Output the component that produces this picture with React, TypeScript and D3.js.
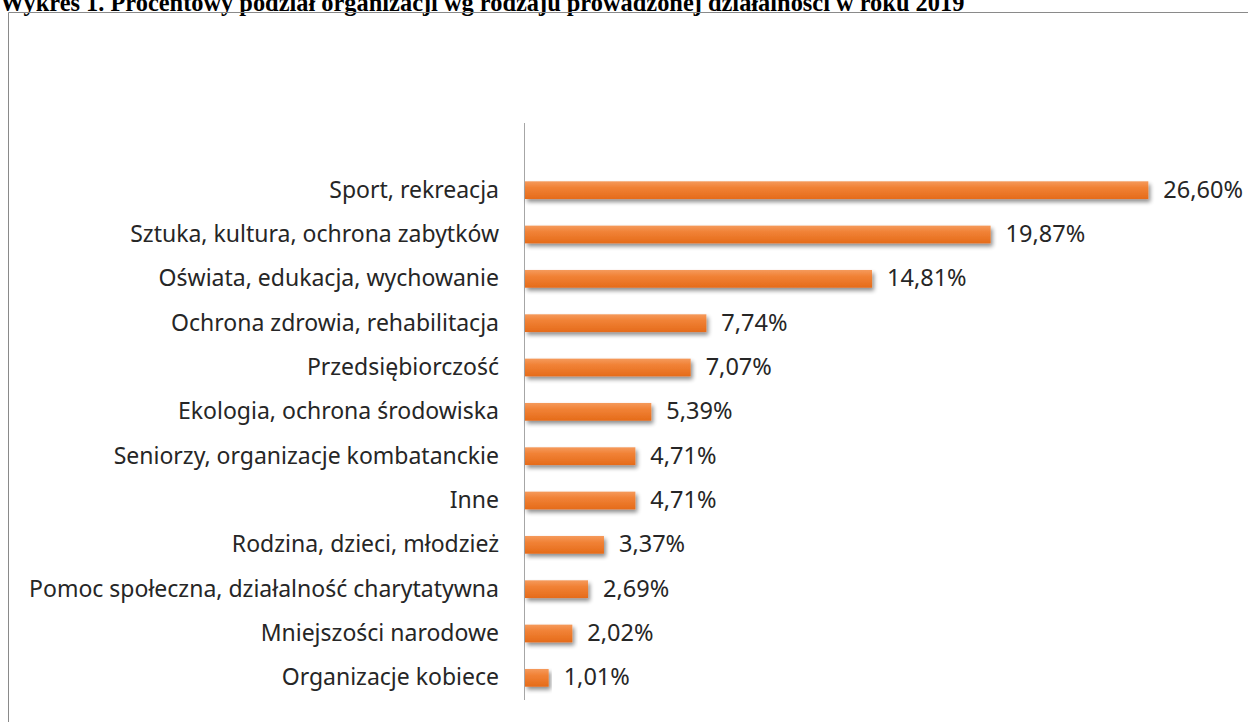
import React from "react";
import * as d3 from "d3";

const title = "Wykres 1. Procentowy podział organizacji wg rodzaju prowadzonej działalności w roku 2019";

const categories = [
  "Sport, rekreacja",
  "Sztuka, kultura, ochrona zabytków",
  "Oświata, edukacja, wychowanie",
  "Ochrona zdrowia, rehabilitacja",
  "Przedsiębiorczość",
  "Ekologia, ochrona środowiska",
  "Seniorzy, organizacje kombatanckie",
  "Inne",
  "Rodzina, dzieci, młodzież",
  "Pomoc społeczna, działalność charytatywna",
  "Mniejszości narodowe",
  "Organizacje kobiece",
];

const values = [26.6, 19.87, 14.81, 7.74, 7.07, 5.39, 4.71, 4.71, 3.37, 2.69, 2.02, 1.01];

const W = 1248;
const H = 722;
const FONT = "'Noto Sans', 'Open Sans', sans-serif";

export default function App() {
  const x = d3.scaleLinear().domain([0, 30]).range([525, 1228]);
  const y = d3
    .scaleBand<string>()
    .domain(categories)
    .range([168, 700])
    .paddingInner(0.6)
    .paddingOuter(0.3);

  const fmt = (v: number) => d3.format(".2f")(v).replace(".", ",") + "%";

  return (
    <svg
      width={W}
      height={H}
      viewBox={`0 0 ${W} ${H}`}
      style={{ position: "absolute", left: 0, top: 0, background: "#fff" }}
    >
      <defs>
        <linearGradient id="barGrad" x1="0" y1="0" x2="0" y2="1">
          <stop offset="0" stopColor="#f59a5c" />
          <stop offset="0.35" stopColor="#f18236" />
          <stop offset="1" stopColor="#e56b1a" />
        </linearGradient>
        <filter id="shadow" x="-5%" y="-30%" width="115%" height="190%">
          <feGaussianBlur in="SourceAlpha" stdDeviation="2" />
          <feOffset dx="2" dy="3" result="ob" />
          <feComponentTransfer>
            <feFuncA type="linear" slope="0.45" />
          </feComponentTransfer>
          <feMerge>
            <feMergeNode />
            <feMergeNode in="SourceGraphic" />
          </feMerge>
        </filter>
      </defs>

      <text
        x={0}
        y={11}
        fontFamily="'Liberation Serif', 'Times New Roman', serif"
        fontWeight="bold"
        fontSize={24.4}
        fill="#000"
      >
        {title}
      </text>

      <path d={`M8.5,${H} V12.5 H${W}`} fill="none" stroke="#8a8a8a" strokeWidth={1} />

      <line x1={524.5} x2={524.5} y1={123} y2={700} stroke="#a6a6a6" strokeWidth={1} />

      {categories.map((c, i) => {
        const y0 = y(c)!;
        const bw = y.bandwidth();
        const cy = y0 + bw / 2;
        return (
          <g key={c}>
            <rect
              x={x(0)}
              y={y0}
              width={x(values[i]) - x(0)}
              height={bw}
              fill="url(#barGrad)"
              filter="url(#shadow)"
            />
            <text
              x={499}
              y={cy + 7.5}
              textAnchor="end"
              fontFamily={FONT}
              fontSize={23}
              fill="#262626"
            >
              {c}
            </text>
            <text
              x={x(values[i]) + 15}
              y={cy + 7.5}
              fontFamily={FONT}
              fontSize={23.5}
              fill="#262626"
            >
              {fmt(values[i])}
            </text>
          </g>
        );
      })}
    </svg>
  );
}
